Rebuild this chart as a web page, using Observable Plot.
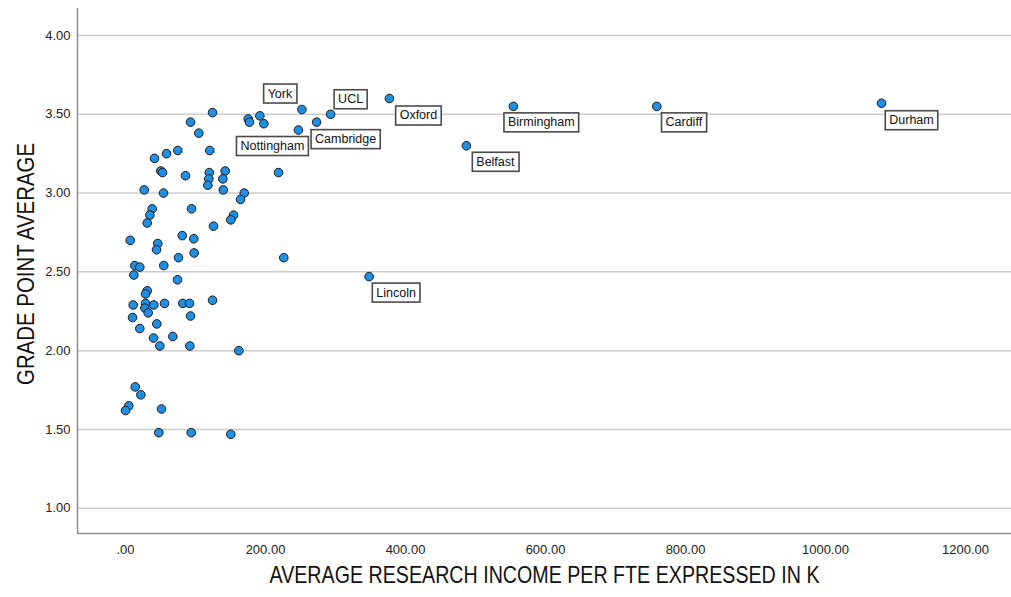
<!DOCTYPE html>
<html>
<head>
<meta charset="utf-8">
<script src="https://cdn.jsdelivr.net/npm/d3@7"></script>
<script src="https://cdn.jsdelivr.net/npm/@observablehq/plot@0.6"></script>
<style>
  html, body { margin: 0; padding: 0; background: #fff; }
  svg { display: block; }
</style>
</head>
<body>
<div id="chart"></div>
<script>
// ---- Data (labelled universities first, in the order of labelNames) ----
const labelNames = ["York", "UCL", "Oxford", "Cambridge", "Nottingham", "Lincoln", "Birmingham", "Cardiff", "Durham", "Belfast"];

const income = [
  252, 293, 377, 273, 247, 348, 554, 759, 1080, 487,
  124.3, 92.9, 104.7, 175.3, 177.1, 191.9, 197.6, 120.4, 41.4, 58.6,
  74.7, 50.4, 52.9, 85.7, 119.6, 142.4, 119.0, 139.0, 117.6, 139.6,
  218.6, 26.7, 54.3, 169.6, 164.3, 38.1, 34.7, 31.0, 94.3, 154.3,
  150.4, 125.7, 6.7, 46.1, 44.3, 81.0, 97.6, 98.1, 75.7, 226.1,
  13.3, 20.4, 11.9, 54.7, 74.3, 31.0, 28.6, 11.0, 28.6, 40.4,
  55.7, 81.9, 91.4, 124.3, 27.6, 32.4, 10.0, 92.9, 20.4, 44.7,
  40.0, 67.6, 49.0, 91.9, 161.9, 13.9, 21.9, 4.7, 0.0, 51.4,
  47.6, 93.9, 150.4
];

const gpa = [
  3.53, 3.50, 3.60, 3.45, 3.40, 2.47, 3.55, 3.55, 3.57, 3.30,
  3.51, 3.45, 3.38, 3.47, 3.45, 3.49, 3.44, 3.27, 3.22, 3.25,
  3.27, 3.14, 3.13, 3.11, 3.13, 3.14, 3.09, 3.09, 3.05, 3.02,
  3.13, 3.02, 3.00, 3.00, 2.96, 2.90, 2.86, 2.81, 2.90, 2.86,
  2.83, 2.79, 2.70, 2.68, 2.64, 2.73, 2.71, 2.62, 2.59, 2.59,
  2.54, 2.53, 2.48, 2.54, 2.45, 2.38, 2.36, 2.29, 2.30, 2.29,
  2.30, 2.30, 2.30, 2.32, 2.27, 2.24, 2.21, 2.22, 2.14, 2.17,
  2.08, 2.09, 2.03, 2.03, 2.00, 1.77, 1.72, 1.65, 1.62, 1.63,
  1.48, 1.48, 1.47
];

const xTicks = [0, 200, 400, 600, 800, 1000, 1200];
const yTicks = [1.0, 1.5, 2.0, 2.5, 3.0, 3.5, 4.0];
const xTitle = "AVERAGE RESEARCH INCOME PER FTE EXPRESSED IN K";
const yTitle = "GRADE POINT AVERAGE";

// ---- Presentation ----
const xDomain = [-68.6, 1265.7];
const yDomain = [0.84, 4.171];
const labelOffsets = {
  York: [-22, -16], UCL: [20, -15], Oxford: [29, 17], Cambridge: [29, 17],
  Nottingham: [-26, 16], Lincoln: [27, 16], Birmingham: [28, 16],
  Cardiff: [27, 16], Durham: [30, 17], Belfast: [29, 16]
};
const fmt = d => d === 0 ? ".00" : d.toFixed(2);
const baseFont = "'Liberation Sans', Arial, sans-serif";
const narrowFont = "'Liberation Sans Narrow', 'Arial Narrow', 'Liberation Sans', Arial, sans-serif";

const points = income.map((x, i) => ({x, y: gpa[i]}));
const labels = labelNames.map((name, i) => ({name, x: income[i], y: gpa[i]}));

const plot = Plot.plot({
  width: 1011,
  height: 597,
  marginLeft: 77,
  marginRight: 0,
  marginTop: 8,
  marginBottom: 64,
  style: {fontFamily: baseFont, fontSize: "13px", color: "#222", background: "#fff"},
  x: {domain: xDomain},
  y: {domain: yDomain},
  marks: [
    Plot.gridY(yTicks, {stroke: "#cdcdcd", strokeOpacity: 1, strokeWidth: 1.5}),
    Plot.ruleX([xDomain[0]], {stroke: "#8c8c8c", strokeWidth: 1.5}),
    Plot.ruleY([yDomain[0]], {stroke: "#8c8c8c", strokeWidth: 1.5}),
    Plot.axisX(xTicks, {tickSize: 0, tickPadding: 11, tickFormat: fmt, fontSize: 13, label: null, fill: "#222"}),
    Plot.axisY(yTicks, {tickSize: 0, tickPadding: 7, tickFormat: fmt, fontSize: 13, label: null, fill: "#222"}),
    Plot.dot(points, {x: "x", y: "y", r: 4.3, fill: "#1e8fe3", fillOpacity: 1, stroke: "#1a1a1a", strokeWidth: 1}),
    ...labels.map(d => Plot.text([d], {
      x: "x", y: "y", text: "name",
      dx: labelOffsets[d.name][0], dy: labelOffsets[d.name][1],
      fontSize: 12.5, fill: "#111"
    })),
    Plot.text([xTitle], {frameAnchor: "bottom", dy: 49, text: d => d, fontSize: 24, fontFamily: narrowFont, fill: "#111"}),
    Plot.text([yTitle], {frameAnchor: "left", dx: -51, dy: -7, rotate: -90, text: d => d, fontSize: 24, fontFamily: narrowFont, fill: "#111"})
  ]
});

document.getElementById("chart").appendChild(plot);

// Post-process: title widths and label boxes
const nameSet = new Set(labelNames);
plot.querySelectorAll("text").forEach(t => {
  const s = t.textContent;
  if (s === xTitle) {
    const x0 = parseFloat(t.getAttribute("x") || "0");
    t.setAttribute("text-anchor", "start");
    t.setAttribute("x", x0 - 275);
    t.setAttribute("textLength", 550);
    t.setAttribute("lengthAdjust", "spacingAndGlyphs");
  } else if (s === yTitle) {
    const x0 = parseFloat(t.getAttribute("x") || "0");
    t.setAttribute("text-anchor", "start");
    t.setAttribute("x", x0 - 121);
    t.setAttribute("textLength", 242);
    t.setAttribute("lengthAdjust", "spacingAndGlyphs");
  } else if (nameSet.has(s)) {
    const bb = t.getBBox();
    const r = document.createElementNS("http://www.w3.org/2000/svg", "rect");
    r.setAttribute("x", bb.x - 4);
    r.setAttribute("y", bb.y - 2.5);
    r.setAttribute("width", bb.width + 8);
    r.setAttribute("height", bb.height + 5);
    r.setAttribute("fill", "#fff");
    r.setAttribute("stroke", "#4a4a4a");
    r.setAttribute("stroke-width", 1.6);
    if (t.getAttribute("transform")) r.setAttribute("transform", t.getAttribute("transform"));
    t.parentNode.insertBefore(r, t);
  }
});
</script>
</body>
</html>
